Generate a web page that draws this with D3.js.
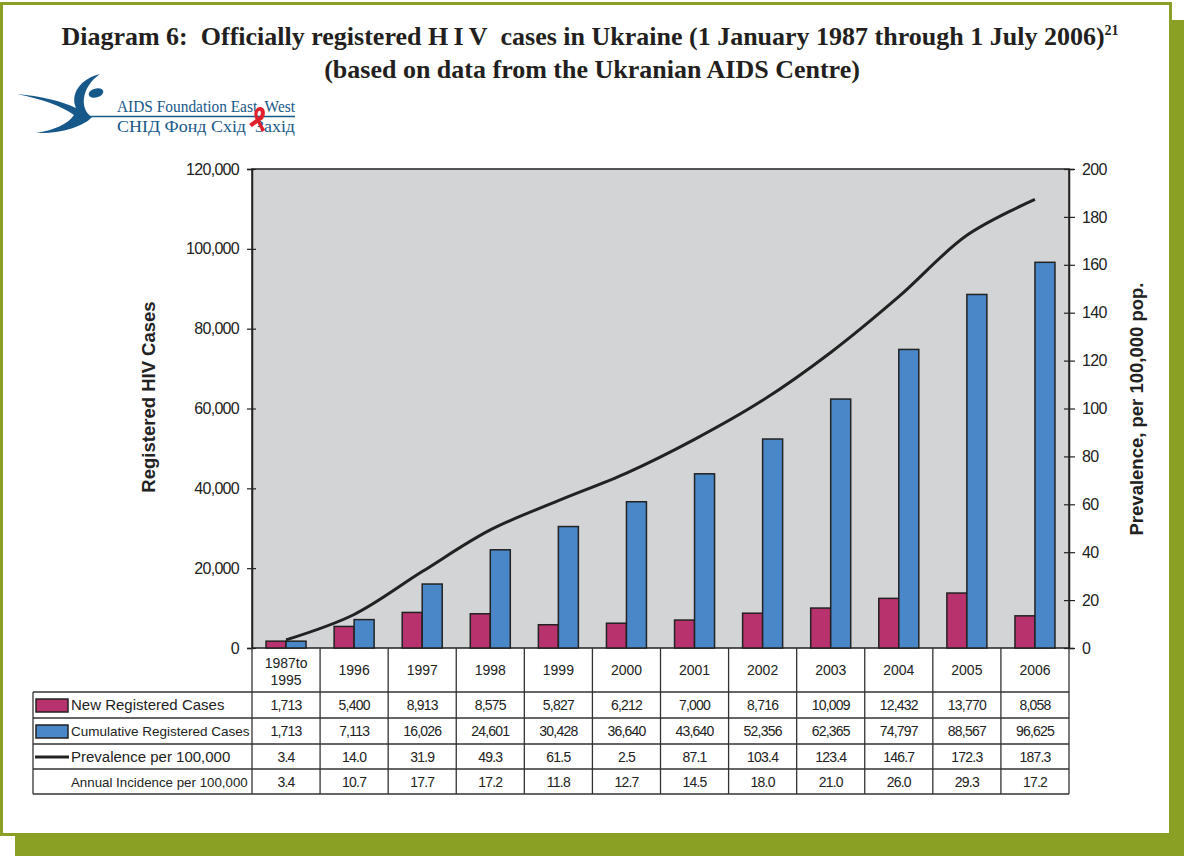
<!DOCTYPE html>
<html>
<head>
<meta charset="utf-8">
<script src="https://cdn.jsdelivr.net/npm/d3@7"></script>
<style>
  body { margin: 0; background: #fff; }
  svg { display: block; font-family: 'Liberation Sans', Arial, sans-serif; }
</style>
</head>
<body>
<div id="chart"></div>
<script>
const WIDTH = 1184;
const HEIGHT = 856;
const PLOT = { left: 252, right: 1069, top: 169, bottom: 648 };
const ROWS = [648, 692, 718, 744, 769, 794];
const LABEL_LEFT = 33;

const categories = ['1987to 1995', '1996', '1997', '1998', '1999', '2000', '2001', '2002', '2003', '2004', '2005', '2006'];
const newCases = [1713, 5400, 8913, 8575, 5827, 6212, 7000, 8716, 10009, 12432, 13770, 8058];
const cumulativeCases = [1713, 7113, 16026, 24601, 30428, 36640, 43640, 52356, 62365, 74797, 88567, 96625];
// the line as drawn (the table's 2000 value "2.5" is a typo, the curve passes ~73)
const prevalenceLine = [3.4, 14.0, 31.9, 49.3, 61.5, 73, 87.1, 103.4, 123.4, 146.7, 172.3, 187.3];
const prevalenceText = ['3.4', '14.0', '31.9', '49.3', '61.5', '2.5', '87.1', '103.4', '123.4', '146.7', '172.3', '187.3'];
const incidenceText = ['3.4', '10.7', '17.7', '17.2', '11.8', '12.7', '14.5', '18.0', '21.0', '26.0', '29.3', '17.2'];
const leftTicks = [0, 20000, 40000, 60000, 80000, 100000, 120000];
const rightTicks = [0, 20, 40, 60, 80, 100, 120, 140, 160, 180, 200];

const OLIVE = '#8aa025';
const PINK = '#b8336e';
const BLUE = '#4a87c9';
const INK = '#222';

const svg = d3.select('#chart')
  .append('svg')
  .attr('width', WIDTH)
  .attr('height', HEIGHT);

// frame with shadow
svg.append('rect').attr('x', 15).attr('y', 20).attr('width', WIDTH - 15).attr('height', HEIGHT - 20).attr('fill', OLIVE);
svg.append('rect').attr('x', 1.5).attr('y', 3.5).attr('width', 1169).attr('height', 831)
  .attr('fill', '#fff').attr('stroke', OLIVE).attr('stroke-width', 3);

// title
const title = svg.append('text')
  .attr('x', 590).attr('y', 45)
  .attr('text-anchor', 'middle')
  .style('font-family', "'Liberation Serif', 'Times New Roman', serif")
  .style('font-weight', 'bold')
  .style('font-size', '26px')
  .attr('fill', '#231f20');
title.append('tspan').text('Diagram 6:\u00a0 Officially registered H\u2009I\u2009V\u00a0 cases in Ukraine (1 January 1987 through 1 July 2006)');
title.append('tspan').attr('dy', -10).style('font-size', '14px').text('21');
svg.append('text')
  .attr('x', 592).attr('y', 78)
  .attr('text-anchor', 'middle')
  .style('font-family', "'Liberation Serif', 'Times New Roman', serif")
  .style('font-weight', 'bold')
  .style('font-size', '26px')
  .attr('fill', '#231f20')
  .text('(based on data from the Ukranian AIDS Centre)');

// logo
const logo = svg.append('g');
const LOGO_BLUE = '#17588a';
logo.append('path')
  .attr('d', 'M100,74 C80,79 70,94 76,108 C62,101 40,96 17,94 C42,99 62,106 74,115 C68,124 55,130 36,133 C62,134 84,126 92,117 C80,110 80,88 100,74 Z')
  .attr('fill', LOGO_BLUE);
logo.append('ellipse').attr('cx', 96).attr('cy', 93).attr('rx', 7.5).attr('ry', 4.5)
  .attr('transform', 'rotate(-15 96 93)').attr('fill', LOGO_BLUE);
logo.append('line').attr('x1', 88).attr('x2', 295).attr('y1', 116.5).attr('y2', 116.5)
  .attr('stroke', LOGO_BLUE).attr('stroke-width', 1.4);
logo.append('text').attr('x', 117).attr('y', 112)
  .style('font-family', "'Liberation Serif', serif").style('font-size', '17px')
  .attr('fill', LOGO_BLUE).attr('textLength', 178).attr('lengthAdjust', 'spacingAndGlyphs')
  .text('AIDS Foundation East\u00a0 West');
logo.append('text').attr('x', 117).attr('y', 132)
  .style('font-family', "'Liberation Serif', serif").style('font-size', '17px')
  .attr('fill', LOGO_BLUE).attr('textLength', 178).attr('lengthAdjust', 'spacingAndGlyphs')
  .text('СНІД Фонд Схід\u00a0 Захід');
logo.append('path')
  .attr('d', 'M262,132 L256,120 C252,113 256,107 260,107 C264,107 267,112 263,119 L252,127 L249,124 L260,116 C262,112 260,110 259,111 C257,112 257,115 259,119 L265,130 Z')
  .attr('fill', '#e0202a');

// scales
const x = d3.scaleBand().domain(categories).range([PLOT.left, PLOT.right]);
const yLeft = d3.scaleLinear().domain([0, 120000]).range([PLOT.bottom, PLOT.top]);
const yRight = d3.scaleLinear().domain([0, 200]).range([PLOT.bottom, PLOT.top]);
const BAR_W = 20;
const center = c => x(c) + x.bandwidth() / 2;

svg.append('rect')
  .attr('x', PLOT.left).attr('y', PLOT.top)
  .attr('width', PLOT.right - PLOT.left).attr('height', PLOT.bottom - PLOT.top)
  .attr('fill', '#d3d4d6').attr('stroke', INK).attr('stroke-width', 1.5);

svg.append('g').selectAll('rect')
  .data(categories)
  .enter()
  .append('rect')
  .attr('x', d => center(d) - BAR_W)
  .attr('y', (d, i) => yLeft(newCases[i]))
  .attr('width', BAR_W)
  .attr('height', (d, i) => PLOT.bottom - yLeft(newCases[i]))
  .attr('fill', PINK).attr('stroke', INK).attr('stroke-width', 1.5);

svg.append('g').selectAll('rect')
  .data(categories)
  .enter()
  .append('rect')
  .attr('x', d => center(d))
  .attr('y', (d, i) => yLeft(cumulativeCases[i]))
  .attr('width', BAR_W)
  .attr('height', (d, i) => PLOT.bottom - yLeft(cumulativeCases[i]))
  .attr('fill', BLUE).attr('stroke', INK).attr('stroke-width', 1.5);

const line = d3.line()
  .x((d, i) => center(categories[i]))
  .y(d => yRight(d))
  .curve(d3.curveCatmullRom.alpha(0.5));
svg.append('path')
  .datum(prevalenceLine)
  .attr('d', line)
  .attr('fill', 'none').attr('stroke', INK).attr('stroke-width', 3);

// axes
const leftAxis = svg.append('g')
  .attr('transform', `translate(${PLOT.left}, 0)`)
  .call(d3.axisLeft(yLeft).tickValues(leftTicks).tickSize(5).tickPadding(8).tickFormat(d3.format(',')));
const rightAxis = svg.append('g')
  .attr('transform', `translate(${PLOT.right}, 0)`)
  .call(d3.axisRight(yRight).tickValues(rightTicks).tickSize(5).tickPadding(8));
[leftAxis, rightAxis].forEach(a => {
  a.select('.domain').attr('stroke', INK).attr('stroke-width', 1.5);
  a.selectAll('.tick line').attr('stroke', INK).attr('stroke-width', 1.2);
  a.selectAll('.tick text')
    .attr('fill', INK)
    .style('font-size', '16px')
    .style('letter-spacing', '-0.7px')
    .style('font-family', "'Liberation Sans', Arial, sans-serif");
});
leftAxis.selectAll('.tick line').attr('x1', 4);
rightAxis.selectAll('.tick line').attr('x1', -5).attr('x2', 6);

svg.append('text')
  .attr('transform', 'translate(155, 397) rotate(-90)')
  .attr('text-anchor', 'middle')
  .style('font-weight', 'bold').style('font-size', '18.5px')
  .attr('fill', INK)
  .text('Registered HIV Cases');
svg.append('text')
  .attr('transform', 'translate(1143, 409) rotate(-90)')
  .attr('text-anchor', 'middle')
  .style('font-weight', 'bold').style('font-size', '18.5px')
  .attr('fill', INK)
  .text('Prevalence, per 100,000 pop.');

// data table
const table = svg.append('g').attr('stroke', '#333').attr('stroke-width', 1.3);
ROWS.slice(1).forEach(y => {
  table.append('line').attr('x1', LABEL_LEFT).attr('x2', PLOT.right).attr('y1', y).attr('y2', y);
});
table.append('line').attr('x1', LABEL_LEFT).attr('x2', LABEL_LEFT).attr('y1', ROWS[1]).attr('y2', ROWS[5]);
categories.concat(['end']).forEach((c, i) => {
  const xx = PLOT.left + i * x.bandwidth();
  table.append('line').attr('x1', xx).attr('x2', xx).attr('y1', PLOT.bottom).attr('y2', ROWS[5]);
});

const cellText = (txt, i, row) => {
  svg.append('text')
    .attr('x', center(categories[i]))
    .attr('y', (ROWS[row] + ROWS[row + 1]) / 2 + 5)
    .attr('text-anchor', 'middle')
    .style('font-size', '14px').style('letter-spacing', '-0.8px')
    .attr('fill', INK)
    .text(txt);
};

categories.forEach((c, i) => {
  const parts = c.split(' ');
  const t = svg.append('text')
    .attr('x', center(c))
    .attr('text-anchor', 'middle')
    .style('font-size', '14px')
    .attr('fill', INK);
  if (parts.length > 1) {
    t.attr('y', 668);
    t.append('tspan').attr('x', center(c)).text(parts[0]);
    t.append('tspan').attr('x', center(c)).attr('dy', 17).text(parts[1]);
  } else {
    t.attr('y', 675).text(c);
  }
  cellText(d3.format(',')(newCases[i]), i, 1);
  cellText(d3.format(',')(cumulativeCases[i]), i, 2);
  cellText(prevalenceText[i], i, 3);
  cellText(incidenceText[i], i, 4);
});

const rowLabels = ['New Registered Cases', 'Cumulative Registered Cases', 'Prevalence per 100,000', 'Annual Incidence per 100,000'];
const rowLabelSize = ['15px', '13.5px', '15px', '13.3px'];
rowLabels.forEach((lab, r) => {
  svg.append('text')
    .attr('x', 71)
    .attr('y', (ROWS[r + 1] + ROWS[r + 2]) / 2 + 5)
    .style('font-size', rowLabelSize[r])
    .attr('fill', INK)
    .text(lab);
});
svg.append('rect').attr('x', 36).attr('y', 699).attr('width', 32).attr('height', 13)
  .attr('fill', PINK).attr('stroke', INK).attr('stroke-width', 1.5);
svg.append('rect').attr('x', 36).attr('y', 725).attr('width', 32).attr('height', 13)
  .attr('fill', BLUE).attr('stroke', INK).attr('stroke-width', 1.5);
svg.append('line').attr('x1', 35).attr('x2', 69).attr('y1', 757).attr('y2', 757)
  .attr('stroke', INK).attr('stroke-width', 3);
</script>
</body>
</html>
